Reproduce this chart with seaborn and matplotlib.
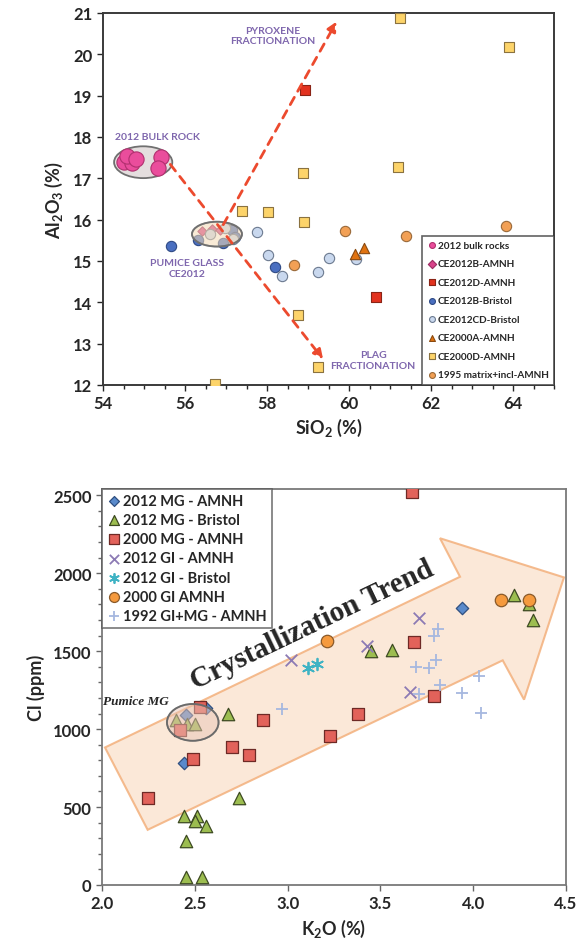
import numpy as np
import pandas as pd
import seaborn as sns
import matplotlib.pyplot as plt
from matplotlib.patches import Ellipse, Polygon

sns.set_style('ticks')
plt.rcParams['font.family'] = ['Lato', 'DejaVu Sans']
plt.rcParams['mathtext.fontset'] = 'custom'
plt.rcParams['mathtext.rm'] = 'Lato:bold'
plt.rcParams['mathtext.it'] = 'Lato:bold'
plt.rcParams['mathtext.bf'] = 'Lato:bold'

# ---- top panel: Al2O3 vs SiO2 ----
bulk_x = [54.50, 54.70, 54.59, 54.80, 55.41, 55.35]
bulk_y = [17.40, 17.37, 17.55, 17.47, 17.52, 17.26]
b_amnh_x = [56.41, 56.66, 56.85]
b_amnh_y = [15.72, 15.77, 15.75]
d_amnh_x = [58.93, 60.66]
d_amnh_y = [19.14, 14.12]
b_bris_x = [55.66, 58.20, 56.32, 56.93, 57.15, 57.22]
b_bris_y = [15.36, 14.85, 15.50, 15.43, 15.75, 15.58]
cd_bris_x = [57.76, 58.02, 58.37, 59.24, 59.51, 60.17, 56.98, 57.17, 56.62]
cd_bris_y = [15.70, 15.14, 14.64, 14.73, 15.07, 15.04, 15.80, 15.53, 15.65]
a2000_x = [60.15, 60.37]
a2000_y = [15.17, 15.31]
d2000_x = [61.24, 58.88, 61.20, 57.39, 58.02, 58.90, 58.76, 59.24, 56.73, 63.90]
d2000_y = [20.88, 17.13, 17.27, 16.21, 16.18, 15.94, 13.69, 12.43, 12.02, 20.18]
m1995_x = [59.90, 58.66, 61.39, 63.83]
m1995_y = [15.72, 14.90, 15.60, 15.84]

# ---- bottom panel: Cl vs K2O ----
mg12_amnh_x = [2.44, 2.45, 2.56, 3.94]
mg12_amnh_y = [780, 1093, 1135, 1775]
mg12_bris_x = [2.44, 2.51, 2.50, 2.56, 2.45, 2.45, 2.54, 2.74, 2.68, 2.40, 2.46, 2.50,
               3.45, 3.56, 4.32, 4.22, 4.30]
mg12_bris_y = [443, 443, 413, 381, 285, 54, 54, 560, 1100, 1060, 1030, 1030,
               1500, 1510, 1700, 1860, 1800]
mg00_amnh_x = [2.25, 2.49, 2.42, 2.53, 2.70, 2.79, 2.87, 3.23, 3.38, 3.68, 3.79, 3.67]
mg00_amnh_y = [560, 810, 995, 1140, 885, 835, 1060, 955, 1100, 1560, 1210, 2520]
gi12_amnh_x = [3.02, 3.43, 3.71, 3.66]
gi12_amnh_y = [1440, 1530, 1715, 1235]
gi12_bris_x = [3.11, 3.16]
gi12_bris_y = [1395, 1420]
gi00_amnh_x = [3.21, 4.15, 4.30]
gi00_amnh_y = [1565, 1830, 1830]
gi92_x = [2.97, 3.69, 3.76, 3.80, 3.81, 3.79, 3.82, 3.71, 3.94, 4.03, 4.04]
gi92_y = [1130, 1400, 1390, 1445, 1640, 1600, 1280, 1225, 1230, 1340, 1105]

# trend arrow outline (K2O, Cl)
trend_x = [2.016, 3.929, 3.821, 4.489, 4.274, 4.159, 2.246]
trend_y = [882, 1977, 2224, 1973, 1189, 1441, 354]

fig = plt.figure(figsize=(5.78, 9.53), dpi=100)
ax1 = fig.add_axes([103 / 578, 1 - 386 / 953, 451 / 578, 372 / 953])
ax2 = fig.add_axes([102 / 578, 1 - 886 / 953, 464 / 578, 396 / 953])

purple = '#7e66ad'

# ellipses behind/over points
ax1.add_patch(Ellipse((54.98, 17.39), 1.42, 0.77, fc='#e4dede', ec='#707070', lw=1.3, zorder=1))

top_series = [
    ('2012 bulk rocks', bulk_x, bulk_y, 'o', '#ea4d9c', '#b0306e', 120),
    ('CE2012B-AMNH', b_amnh_x, b_amnh_y, 'D', '#d8428a', '#9a2a60', 22),
    ('CE2012D-AMNH', d_amnh_x, d_amnh_y, 's', '#e2321f', '#8a2416', 55),
    ('CE2012B-Bristol', b_bris_x, b_bris_y, 'o', '#4a6fc0', '#2f4a85', 55),
    ('CE2012CD-Bristol', cd_bris_x, cd_bris_y, 'o', '#c9d8ee', '#6c7a90', 55),
    ('CE2000A-AMNH', a2000_x, a2000_y, '^', '#e0720f', '#8a4a10', 55),
    ('CE2000D-AMNH', d2000_x, d2000_y, 's', '#fdd46a', '#8a7240', 55),
    ('1995 matrix+incl-AMNH', m1995_x, m1995_y, 'o', '#f2a055', '#9a6a3a', 55),
]
for lab, xs, ys, mk, fc, ec, s in top_series:
    sns.scatterplot(x=xs, y=ys, ax=ax1, marker=mk, color=fc, edgecolor=ec,
                    linewidth=0.8, s=s, label=lab, zorder=3)

ax1.add_patch(Ellipse((56.78, 15.65), 1.22, 0.6, fc='#f3d9b5', ec='#707070', lw=1.3,
                      alpha=0.55, zorder=4))
ax1.add_patch(Ellipse((56.78, 15.65), 1.22, 0.6, fc='none', ec='#707070', lw=1.3, zorder=4))

arrow_kw = dict(arrowstyle='-|>', color='#ec4a2e', lw=2, ls=(0, (3, 2.5)), mutation_scale=14)
ax1.annotate('', xy=(59.41, 12.57), xytext=(55.6, 17.39), arrowprops=arrow_kw, zorder=5)
ax1.annotate('', xy=(59.73, 20.85), xytext=(56.9, 15.82), arrowprops=arrow_kw, zorder=5)

txt_kw = dict(color=purple, fontsize=7.5, fontweight='bold', ha='center', va='center')
ax1.text(58.15, 20.45, 'PYROXENE\nFRACTIONATION', **txt_kw)
ax1.text(55.34, 18.02, '2012 BULK ROCK', **txt_kw)
ax1.text(56.05, 14.83, 'PUMICE GLASS\nCE2012', **txt_kw)
ax1.text(60.59, 12.6, 'PLAG\nFRACTIONATION', **txt_kw)

ax1.set_xlim(54, 65)
ax1.set_ylim(12, 21)
ax1.set_xticks(np.arange(54, 65, 2))
ax1.set_xticks(np.arange(54, 65.01, 0.5), minor=True)
ax1.set_yticks(np.arange(12, 21.01, 1))
ax1.set_xlabel('SiO$_2$ (%)', fontsize=13, fontweight='bold', labelpad=3)
ax1.set_ylabel('Al$_2$O$_3$ (%)', fontsize=13, fontweight='bold', labelpad=6)
ax1.tick_params(labelsize=12, length=4, width=1)
ax1.tick_params(which='minor', length=3, width=1)
for t in ax1.get_xticklabels() + ax1.get_yticklabels():
    t.set_fontweight('bold')
for sp in ax1.spines.values():
    sp.set_visible(True)
    sp.set_color('#3a3a3a')
    sp.set_linewidth(1.4)
leg1 = ax1.legend(loc='lower right', bbox_to_anchor=(1, 0), borderaxespad=0,
                  prop={'weight': 'bold', 'size': 7.2},
                  handletextpad=0.05, handlelength=1.0, labelspacing=0.95,
                  frameon=True, fancybox=False, edgecolor='#3a3a3a', borderpad=0.55)
leg1.get_frame().set_linewidth(1.2)
for h in leg1.legend_handles:
    h.set_sizes([18])

# ---- bottom panel ----
ax2.add_patch(Polygon(list(zip(trend_x, trend_y)), closed=True, fc='#fbe4d2', ec='#f3b07c',
                      lw=1.5, alpha=0.85, zorder=1))
ax2.text(3.131, 1675, 'Crystallization Trend', family=['Liberation Serif', 'DejaVu Serif'],
         fontsize=21, fontweight='bold', rotation=25.6, rotation_mode='anchor',
         ha='center', va='center', zorder=2,
         bbox=dict(fc='white', ec='none', pad=1))

bottom_series = [
    ('2012 MG - AMNH', mg12_amnh_x, mg12_amnh_y, 'D', '#5a8acb', '#2f4f80', 40),
    ('2012 MG - Bristol', mg12_bris_x, mg12_bris_y, '^', '#9cbd50', '#3d4a22', 80),
    ('2000 MG - AMNH', mg00_amnh_x, mg00_amnh_y, 's', '#e2625a', '#6e2a26', 80),
    ('2012 GI - AMNH', gi12_amnh_x, gi12_amnh_y, 'x', '#8c7ab4', None, 70),
    ('2012 GI - Bristol', gi12_bris_x, gi12_bris_y, (6, 2, 0), '#3fb3c4', None, 70),
    ('2000 GI AMNH', gi00_amnh_x, gi00_amnh_y, 'o', '#f59a3e', '#8a5a2a', 80),
    ('1992 GI+MG - AMNH', gi92_x, gi92_y, '+', '#a6b8df', None, 80),
]
for lab, xs, ys, mk, fc, ec, s in bottom_series:
    if ec is None:
        sns.scatterplot(x=xs, y=ys, ax=ax2, marker=mk, color=fc, linewidth=1.3,
                        s=s, label=lab, zorder=3)
    else:
        sns.scatterplot(x=xs, y=ys, ax=ax2, marker=mk, color=fc, edgecolor=ec,
                        linewidth=0.9, s=s, label=lab, zorder=3)

ax2.add_patch(Ellipse((2.489, 1043), 0.278, 236, fc='#e9c6b8', ec='#6a6a6a', lw=1.3,
                      alpha=0.5, zorder=4))
ax2.add_patch(Ellipse((2.489, 1043), 0.278, 236, fc='none', ec='#6a6a6a', lw=1.3, zorder=4))
ax2.text(2.005, 1183, 'Pumice MG', family=['Liberation Serif', 'DejaVu Serif'],
         fontsize=9.5, fontweight='bold', style='italic', ha='left', va='center', zorder=5)

ax2.set_xlim(2.0, 4.5)
ax2.set_ylim(0, 2540)
ax2.set_xticks(np.arange(2.0, 4.51, 0.5))
ax2.set_xticklabels([f'{v:.1f}' for v in np.arange(2.0, 4.51, 0.5)])
ax2.set_yticks(np.arange(0, 2501, 500))
ax2.set_yticks(np.arange(0, 2501, 100), minor=True)
ax2.set_xlabel('K$_2$O (%)', fontsize=13, fontweight='bold', labelpad=4)
ax2.set_ylabel('Cl (ppm)', fontsize=13, fontweight='bold', labelpad=6)
ax2.tick_params(labelsize=12, length=4, width=1, color='#666666')
ax2.tick_params(which='minor', length=3, width=1, color='#666666')
for t in ax2.get_xticklabels() + ax2.get_yticklabels():
    t.set_fontweight('bold')
for sp in ax2.spines.values():
    sp.set_visible(True)
    sp.set_color('#7a7a7a')
    sp.set_linewidth(1.3)
leg2 = ax2.legend(loc='upper left', bbox_to_anchor=(0, 1), borderaxespad=0,
                  prop={'weight': 'bold', 'size': 10.5}, markerscale=0.8,
                  handletextpad=0.1, handlelength=1.0, labelspacing=0.35,
                  frameon=True, fancybox=False, edgecolor='#555555', borderpad=0.35)
leg2.get_frame().set_linewidth(1.2)
leg2.set_zorder(6)

fig.savefig('out.png', dpi=100)
